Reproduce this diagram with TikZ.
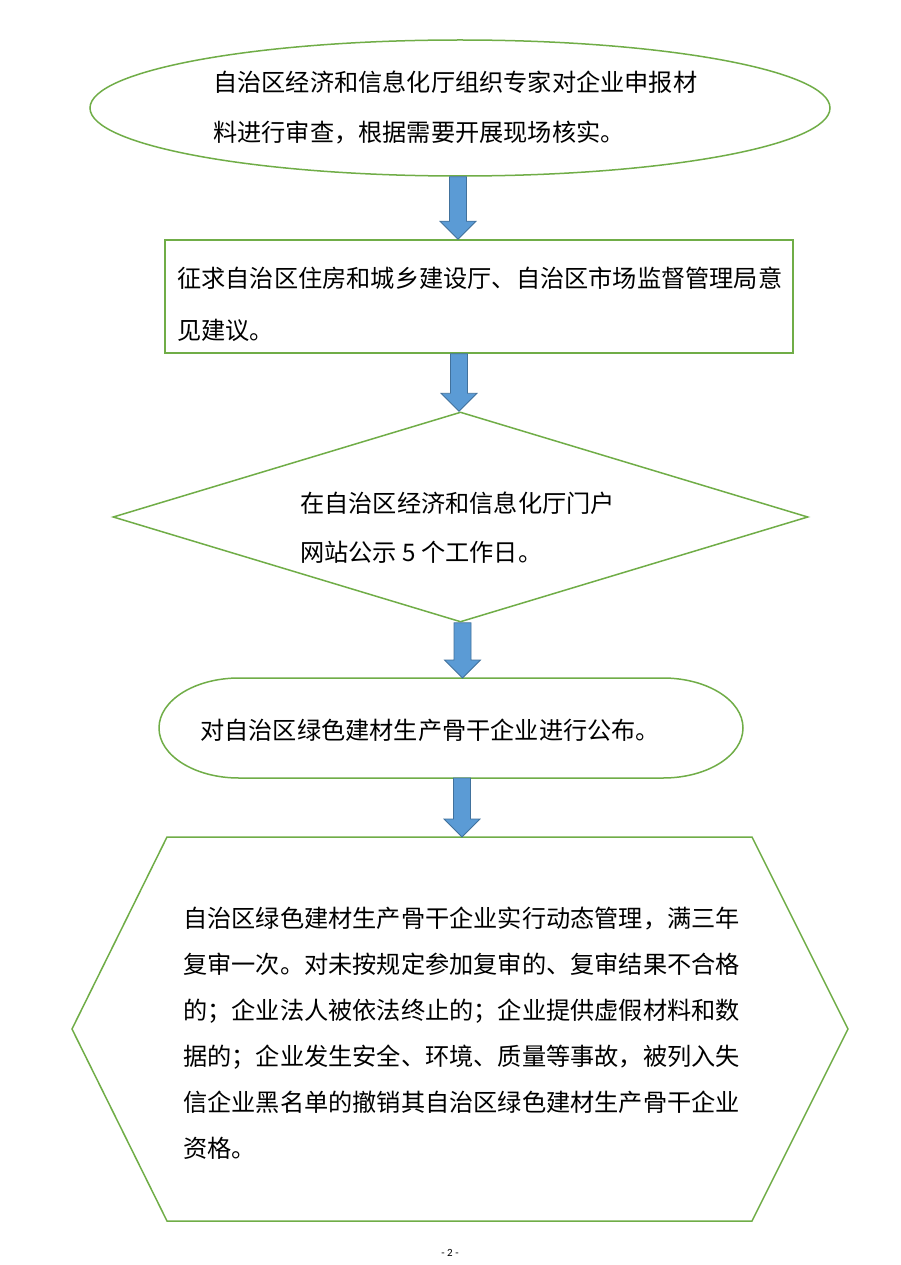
\documentclass[tikz,border=0pt]{standalone}
\usepackage{fontspec}
\setmainfont{Carlito}
\newfontfamily\cjk{Noto Sans CJK SC}
\usetikzlibrary{calc, shapes.geometric}
\definecolor{boxgreen}{HTML}{70AD47}
\definecolor{arrowblue}{HTML}{5B9BD5}
\definecolor{arrowedge}{HTML}{41719C}
\tikzset{
  outline/.style={draw=boxgreen, line width=1.5pt, inner sep=0pt},
  hidden/.style={inner sep=0pt, outer sep=0pt},
  txt/.style={anchor=west, align=left, inner sep=0pt, font=\cjk\fontsize{24.2}{#1}\selectfont},
  flowarrow/.style={fill=arrowblue, draw=arrowedge, line width=0.8pt, line join=miter}
}
% block arrow from #1 down to #2, shifted sideways by #3
\newcommand{\blockarrow}[3]{%
  \path ($(#1)+(#3,0)$) coordinate (top) (top |- #2) coordinate (tip);
  \draw[flowarrow] ($(top)+(-8.5,0)$) -- ($(tip)+(-8.5,-18)$) -- ($(tip)+(-18,-18)$) -- (tip)
    -- ($(tip)+(18,-18)$) -- ($(tip)+(8.5,-18)$) -- ($(top)+(8.5,0)$) -- cycle;}

\begin{document}
\begin{tikzpicture}[x=1pt, y=-1pt]
\path[use as bounding box, fill=white] (0,0) rectangle (900,1265);

% shapes
\node[outline, ellipse, minimum width=740, minimum height=136] (s1) at (460,108) {};
\node[outline, rectangle, minimum width=628, minimum height=113] (s2) at (479,296.5) {};
\node[outline, diamond, minimum width=695, minimum height=210] (s3) at (460.5,517) {};
\node[hidden, minimum width=424, minimum height=100] (s4) at (451,728) {};
\draw[outline] (s4.north west) -- (s4.north east) arc[start angle=-90, end angle=90, x radius=80, y radius=50]
  -- (s4.south west) arc[start angle=90, end angle=270, x radius=80, y radius=50] -- cycle;
\node[hidden, minimum width=585, minimum height=384] (s5) at (459.5,1029) {};
\draw[outline] (s5.north west) -- (s5.north east) -- ($(s5.east)+(96,0)$) -- (s5.south east)
  -- (s5.south west) -- ($(s5.west)+(-95,0)$) -- cycle;

% texts
\node[txt=50] (t1) at (213,108) {自治区经济和信息化厅组织专家对企业申报材\\料进行审查，根据需要开展现场核实。};
\node[txt=52] (t2) at (177,304) {征求自治区住房和城乡建设厅、自治区市场监督管理局意\\见建议。};
\node[txt=49] (t3) at (300,527.5) {在自治区经济和信息化厅门户\\网站公示 5 个工作日。};
\node[txt=30] (t4) at (200,730) {对自治区绿色建材生产骨干企业进行公布。};
\node[txt=46] (t5) at (183,1033) {自治区绿色建材生产骨干企业实行动态管理，满三年\\复审一次。对未按规定参加复审的、复审结果不合格\\的；企业法人被依法终止的；企业提供虚假材料和数\\据的；企业发生安全、环境、质量等事故，被列入失\\信企业黑名单的撤销其自治区绿色建材生产骨干企业\\资格。};
\node[font=\fontsize{11}{13}\selectfont] (pg) at (450,1253) {- 2 -};

% arrows
\blockarrow{s1.south}{s2.north}{-2}
\blockarrow{s2.south}{s3.north}{-20}
\blockarrow{s3.south}{s4.north}{2}
\blockarrow{s4.south}{s5.north}{11}
\end{tikzpicture}
\end{document}
